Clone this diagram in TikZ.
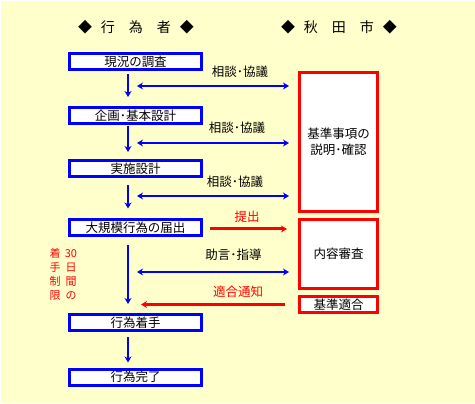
\documentclass[tikz,border=0pt]{standalone}
\usepackage{fontspec}
\setmainfont{Noto Sans CJK JP}
\usetikzlibrary{arrows.meta,calc}
\definecolor{bgyellow}{RGB}{255,255,204}
\definecolor{actblue}{RGB}{0,0,255}
\definecolor{cityred}{RGB}{255,0,0}
\begin{document}
\begin{tikzpicture}[x=1pt,y=-1pt,
  actbox/.style={draw=actblue,line width=3pt,fill=white,minimum width=132pt,minimum height=16pt,inner sep=0pt,font=\fontsize{12.5}{14}\selectfont},
  citybox/.style={draw=cityred,line width=3pt,fill=white,minimum width=78pt,inner sep=0pt,align=center,font=\fontsize{12.5}{16}\selectfont},
  flow/.style={actblue,line width=2.5pt,-{Stealth[length=6pt,width=7pt]}},
  talk/.style={actblue,line width=2.5pt,{Stealth[length=6pt,width=7pt]}-{Stealth[length=6pt,width=7pt]}},
  send/.style={cityred,line width=3pt,-{Stealth[length=6pt,width=7pt]}},
  lbl/.style={font=\fontsize{12.5}{14}\selectfont},
  note/.style={text=cityred,align=center,anchor=north,inner sep=0pt,font=\fontsize{11}{14}\selectfont}]
\useasboundingbox (0,0) rectangle (475,404);
\fill[bgyellow] (1,1) rectangle (475,403);
\node[font=\fontsize{14}{16}\selectfont] (H1) at (136,27) {◆\hspace{9pt}行　為　者\hspace{9pt}◆};
\node[font=\fontsize{14}{16}\selectfont] (H2) at (339,27) {◆\hspace{9pt}秋　田　市\hspace{9pt}◆};
\node[actbox] (B1) at (135.5,61.5) {現況の調査};
\node[actbox] (B2) at (135.5,115.5) {企画･基本設計};
\node[actbox] (B3) at (135.5,168.5) {実施設計};
\node[actbox] (B4) at (135.5,228) {大規模行為の届出};
\node[actbox] (B5) at (135.5,322.5) {行為着手};
\node[actbox] (B6) at (135.5,377) {行為完了};
\node[citybox,minimum height=139pt] (K1) at (338.5,142) {基準事項の\\説明･確認};
\node[citybox,minimum height=69pt] (K2) at (338.5,254) {内容審査};
\node[citybox,minimum height=16pt] (K3) at (338.5,304.5) {基準適合};
\draw[flow] ([xshift=-7.5pt,yshift=-3pt]B1.south) -- ([xshift=-7.5pt,yshift=9pt]B2.north);
\draw[flow] ([xshift=-7.5pt,yshift=-1pt]B2.south) -- ([xshift=-7.5pt,yshift=7pt]B3.north);
\draw[flow] ([xshift=-7.5pt,yshift=-7pt]B3.south) -- ([xshift=-7.5pt,yshift=10pt]B4.north);
\draw[flow] ([xshift=-7.5pt,yshift=-8pt]B4.south) -- ([xshift=-7.5pt,yshift=9pt]B5.north);
\draw[flow] ([xshift=-7.5pt,yshift=-5pt]B5.south) -- ([xshift=-7.5pt,yshift=5pt]B6.north);
\coordinate (T1) at (137,86);
\coordinate (T2) at (137,143);
\coordinate (T3) at (137,196);
\coordinate (T4) at (137,272);
\draw[talk] (T1) -- ($(T1 -| K1.west)+(-9,0)$);
\draw[talk] (T2) -- ($(T2 -| K1.west)+(-9,0)$);
\draw[talk] (T3) -- ($(T3 -| K1.west)+(-9,0)$);
\draw[talk] (T4) -- ($(T4 -| K2.west)+(-9,0)$);
\node[lbl] (C1) at (240,72) {相談･協議};
\node[lbl] (C2) at (237,128) {相談･協議};
\node[lbl] (C3) at (235,182) {相談･協議};
\node[lbl] (C4) at (233.5,255) {助言･指導};
\coordinate (S) at (210,229);
\draw[send] (S) -- ($(S -| K2.west)+(-11,0)$);
\node[lbl,text=cityred] (P) at (247,217) {提出};
\coordinate (N) at (141,304.5);
\draw[send] ($(K3.west)+(-13,0)$) -- (N);
\node[lbl,text=cityred] (A) at (238,292) {適合通知};
\node[note] (D1) at (71,247) {\strut 30\\日\\間\\の};
\node[note] (D2) at (55,247) {\strut 着\\手\\制\\限};
\end{tikzpicture}
\end{document}
